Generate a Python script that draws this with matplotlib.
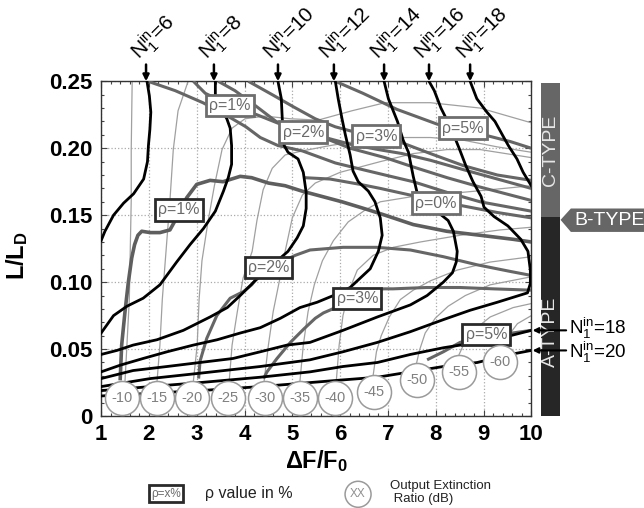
import numpy as np
import matplotlib
matplotlib.use('Agg')
import matplotlib.pyplot as plt
from matplotlib.patches import Rectangle, Polygon, Ellipse
from matplotlib.ticker import MultipleLocator

plt.rcParams['font.family'] = ['Liberation Sans', 'DejaVu Sans']
plt.rcParams['mathtext.fontset'] = 'custom'
plt.rcParams['mathtext.rm'] = 'Liberation Sans'
plt.rcParams['mathtext.it'] = 'Liberation Sans:italic'
plt.rcParams['mathtext.bf'] = 'Liberation Sans:bold'

# N1^in = const curves (black), points (dF/F0, L/LD)
n06 = [(1.96, .250), (2.01, .239), (2.04, .227), (2.02, .214), (1.99, .202), (1.97, .190),
       (1.89, .177), (1.68, .166), (1.47, .159), (1.26, .150), (1.08, .138), (1.00, .131)]
n08 = [(3.39, .250), (3.39, .240), (3.50, .230), (3.63, .222), (3.70, .215), (3.73, .202),
       (3.73, .188), (3.66, .178), (3.56, .168), (3.39, .153), (3.14, .140), (2.86, .128),
       (2.58, .115), (2.23, .098), (1.88, .088), (1.54, .082), (1.26, .075), (1.00, .062)]
n10 = [(4.70, .250), (4.77, .237), (4.79, .222), (4.83, .202), (4.91, .197), (5.12, .192),
       (5.23, .182), (5.29, .167), (5.29, .155), (5.23, .142), (5.10, .133), (4.91, .123),
       (4.75, .118), (4.50, .110), (4.22, .101), (3.91, .090), (3.64, .081), (3.28, .074),
       (2.72, .064), (2.17, .057), (1.67, .053), (1.33, .049), (1.00, .046)]
n12 = [(5.90, .250), (5.96, .237), (6.04, .222), (6.11, .210), (6.21, .195), (6.27, .183),
       (6.38, .175), (6.59, .168), (6.73, .160), (6.84, .148), (6.88, .135), (6.80, .123),
       (6.63, .110), (6.42, .103), (6.21, .096), (5.86, .090), (5.52, .085), (5.16, .081),
       (4.75, .073), (4.33, .066), (3.91, .062), (3.43, .057), (2.93, .053), (2.38, .048),
       (1.88, .043), (1.40, .038), (1.00, .033)]
n14 = [(6.92, .250), (7.01, .237), (7.20, .220), (7.32, .206), (7.43, .197), (7.53, .179),
       (7.61, .167), (7.88, .157), (8.26, .146), (8.37, .138), (8.45, .123), (8.43, .115),
       (8.35, .107), (8.16, .100), (7.82, .090), (7.47, .083), (6.78, .074), (6.06, .064),
       (5.37, .055), (4.89, .053), (4.33, .048), (3.76, .043), (3.07, .040), (2.38, .037),
       (1.67, .034), (1.00, .028)]
n16 = [(7.86, .250), (7.97, .243), (8.11, .230), (8.32, .215), (8.49, .200), (8.63, .187),
       (8.78, .175), (8.95, .164), (9.01, .156), (9.22, .149), (9.51, .142), (9.78, .132),
       (9.93, .123), (9.98, .109), (9.98, .099), (9.92, .092), (9.29, .085), (8.72, .079),
       (8.16, .072), (7.47, .063), (6.78, .055), (6.06, .048), (5.37, .042), (4.33, .037),
       (3.07, .032), (2.03, .028), (1.00, .022)]
n18_top = [(8.72, .250), (8.86, .237), (9.07, .227), (9.24, .220), (9.41, .209), (9.52, .202),
           (9.70, .192), (9.83, .182), (10.0, .172)]
n18_low = [(10.0, .064), (9.56, .060), (8.87, .055), (8.16, .051), (7.47, .046), (6.78, .040),
           (6.06, .037), (5.37, .033), (4.33, .029), (3.07, .025), (2.03, .022), (1.00, .019)]
n20_low = [(10.0, .049), (9.56, .046), (8.87, .040), (8.16, .037), (7.47, .033), (6.78, .029),
           (6.06, .027), (5.37, .025), (4.33, .022), (3.07, .019), (2.03, .017), (1.00, .015)]

n_top_values = [6, 8, 10, 12, 14, 16, 18]
n_top_x = [1.94, 3.36, 4.70, 5.87, 6.92, 7.86, 8.72]
n_right_values = [18, 20]
n_right_y = [0.064, 0.049]

# rho = const curves (dark gray)
rho1_up = [(1.98, .250), (2.55, .243), (3.13, .234), (3.60, .225), (4.03, .216), (4.33, .208),
           (4.70, .202), (5.21, .198), (5.90, .189), (6.59, .183), (6.94, .180), (7.53, .175),
           (8.24, .167), (8.93, .160), (10.0, .153)]
rho2_up = [(2.93, .250), (3.18, .241), (3.70, .232), (4.26, .225), (4.68, .219), (5.23, .212),
           (5.79, .206), (6.21, .200), (6.94, .193), (7.53, .186), (8.24, .178), (8.93, .171),
           (10.0, .161)]
rho_mid = [(3.45, .250), (3.80, .243), (4.22, .232), (4.66, .220), (5.20, .213), (5.79, .207),
           (6.21, .203), (6.80, .199), (7.30, .196), (7.89, .191), (8.58, .184), (9.29, .177),
           (10.0, .170)]
rho3_up = [(4.08, .250), (4.58, .240), (5.02, .231), (5.48, .222), (5.90, .216), (6.21, .213),
           (6.76, .209), (7.30, .204), (7.89, .196), (8.58, .187), (9.29, .180), (10.0, .176)]
rho5_up = [(5.90, .250), (6.48, .241), (7.19, .229), (8.03, .218), (8.57, .214), (9.12, .209),
           (9.56, .205), (10.0, .200)]
rho0 = [(5.26, .178), (5.79, .177), (6.42, .173), (6.84, .170), (7.47, .165), (8.01, .161),
        (8.56, .157), (9.29, .152), (10.0, .148)]
rho1_low = [(1.40, .028), (1.43, .053), (1.50, .078), (1.57, .100), (1.64, .118), (1.70, .128),
            (1.77, .135), (1.85, .138), (2.03, .137), (2.23, .137), (2.44, .139), (2.58, .148),
            (2.79, .163), (3.00, .173), (3.28, .176), (3.55, .175), (3.91, .179), (4.15, .178),
            (4.50, .174), (4.85, .172), (5.20, .168), (5.62, .164), (6.04, .160), (6.59, .154),
            (6.94, .150), (7.53, .143), (8.23, .138), (8.93, .135), (9.62, .132), (10.0, .130)]
rho2_low = [(3.04, .028), (3.07, .041), (3.21, .058), (3.42, .075), (3.70, .088), (3.98, .093),
            (4.15, .098), (4.26, .103), (4.60, .112), (5.06, .120), (5.37, .124), (6.06, .126),
            (6.77, .126), (7.47, .124), (8.16, .119), (8.86, .113), (9.56, .108), (10.0, .105)]
rho3_low = [(4.40, .028), (4.47, .033), (4.68, .043), (4.96, .055), (5.24, .065), (5.48, .073),
            (5.65, .077), (6.36, .088), (6.90, .095), (7.11, .095), (7.81, .096), (8.51, .096),
            (9.20, .095), (10.0, .094)]
rho5_low = [(7.82, .042), (8.16, .048), (8.51, .055), (9.06, .060), (9.60, .062), (10.0, .064)]

rho_text = ['ρ=1%', 'ρ=2%', 'ρ=3%', 'ρ=5%', 'ρ=0%', 'ρ=1%', 'ρ=2%', 'ρ=3%', 'ρ=5%']
rho_tx = [3.70, 5.23, 6.76, 8.57, 8.01, 2.63, 4.50, 6.36, 9.06]
rho_ty = [.232, .212, .209, .215, .159, .154, .111, .088, .061]
rho_lower = [False, False, False, False, False, True, True, True, True]

# output extinction ratio curves (thin gray)
er10 = [(1.50, .026), (1.54, .053), (1.59, .087), (1.61, .124), (1.63, .161), (1.63, .199), (1.65, .250)]
er15 = [(2.17, .026), (2.23, .053), (2.28, .087), (2.36, .124), (2.44, .161), (2.51, .199),
        (2.61, .228), (2.82, .250)]
er20 = [(2.93, .026), (3.01, .053), (3.05, .087), (3.11, .116), (3.24, .146), (3.37, .172),
        (3.53, .199), (3.74, .215), (4.01, .222), (4.43, .224), (4.96, .222), (5.54, .221),
        (6.25, .228), (6.94, .234), (7.89, .234), (8.93, .230), (10.0, .219)]
er25 = [(3.68, .026), (3.74, .053), (3.85, .078), (3.97, .103), (4.16, .123), (4.26, .146),
        (4.39, .169), (4.58, .185), (4.85, .195), (5.21, .198), (5.79, .202), (6.48, .206),
        (7.20, .208), (7.89, .208), (8.58, .206), (9.29, .201), (10.0, .197)]
er30 = [(4.41, .026), (4.50, .053), (4.60, .078), (4.73, .101), (4.85, .123), (5.00, .148),
        (5.21, .165), (5.48, .174), (6.00, .182), (6.84, .190), (7.53, .196), (8.24, .199),
        (8.93, .199), (10.0, .193)]
er35 = [(5.16, .026), (5.23, .053), (5.33, .078), (5.46, .098), (5.63, .116), (5.86, .131),
        (6.17, .145), (6.53, .154), (6.84, .160), (7.53, .164), (8.24, .166), (9.14, .169),
        (10.0, .172)]
er40 = [(5.92, .026), (5.98, .053), (6.06, .075), (6.19, .094), (6.36, .109), (6.69, .120),
        (7.11, .126), (7.68, .130), (8.51, .135), (9.35, .139), (10.0, .141)]
er45 = [(6.69, .030), (6.76, .048), (6.86, .060), (7.03, .074), (7.26, .087), (7.53, .094),
        (7.89, .101), (8.45, .109), (9.14, .115), (10.0, .119)]
er50 = [(7.59, .038), (7.66, .049), (7.78, .062), (7.99, .073), (8.26, .082), (8.62, .090),
        (9.14, .098), (10.0, .104)]
er55 = [(8.49, .046), (8.58, .053), (8.79, .064), (9.14, .074), (9.62, .081), (10.0, .084)]
er60 = [(9.41, .052), (9.50, .059), (9.71, .069), (10.0, .075)]

er_values = [-10, -15, -20, -25, -30, -35, -40, -45, -50, -55, -60]
er_x = [1.43, 2.17, 2.90, 3.66, 4.43, 5.16, 5.90, 6.70, 7.61, 8.48, 9.35]
er_y = [.0132, .0132, .0132, .0132, .0132, .0132, .0132, .0181, .0269, .0331, .0405]


def draw(ax, pts, **kw):
    xs, ys = zip(*pts)
    ax.plot(xs, ys, **kw)


fig = plt.figure(figsize=(6.44, 5.08), dpi=100)
ax = fig.add_axes([0.157, 0.181, 0.668, 0.659])

for c in [er10, er15, er20, er25, er30, er35, er40, er45, er50, er55, er60]:
    draw(ax, c, color='#a0a0a0', lw=0.9, zorder=2)

for c in [rho1_up, rho2_up, rho_mid, rho3_up, rho5_up, rho0, rho2_low, rho3_low, rho5_low]:
    draw(ax, c, color='#666666', lw=2.2, zorder=3, solid_capstyle='butt')
draw(ax, rho1_low, color='#5e5e5e', lw=2.6, zorder=3)

for c in [n06, n08, n10, n12, n14, n16, n18_top, n18_low, n20_low]:
    draw(ax, c, color='black', lw=2.0, zorder=4)

for t, x, y, low in zip(rho_text, rho_tx, rho_ty, rho_lower):
    ax.text(x, y, t, fontsize=11.5, color='#6a6a6a', ha='center', va='center', zorder=6,
            bbox=dict(boxstyle='square,pad=0.2', fc='white',
                      ec='#2a2a2a' if low else '#6e6e6e', lw=2))

ax.scatter(er_x, er_y, s=600, facecolor='white', edgecolor='#9a9a9a', lw=1.1, zorder=7, clip_on=False)
for v, x, y in zip(er_values, er_x, er_y):
    ax.text(x, y, str(v), fontsize=10.5, color='#808080', ha='center', va='center', zorder=8)

ax.set_xlim(1, 10)
ax.set_ylim(0, 0.25)
ax.set_xticks(range(1, 11))
ax.set_yticks([0, 0.05, 0.10, 0.15, 0.20, 0.25])
ax.set_yticklabels(['0', '0.05', '0.10', '0.15', '0.20', '0.25'])
ax.xaxis.set_minor_locator(MultipleLocator(0.2))
ax.yaxis.set_minor_locator(MultipleLocator(0.01))
ax.tick_params(which='both', direction='in', top=True, right=True, width=0.8, color='#444444')
ax.tick_params(which='major', length=4, labelsize=16, pad=6)
ax.tick_params(which='minor', length=2.5)
plt.setp(ax.get_xticklabels() + ax.get_yticklabels(), fontweight='bold')
ax.grid(True, which='major', ls=':', color='#aaaaaa', lw=0.9)
ax.set_axisbelow(True)
for s in ax.spines.values():
    s.set_color('#333333')
    s.set_linewidth(1.0)

ax.set_xlabel(r'ΔF/F$_\mathbf{0}$', fontsize=17, fontweight='bold')
ax.xaxis.set_label_coords(0.5, -0.095)
ax.set_ylabel(r'L/L$_\mathbf{D}$', fontsize=17, fontweight='bold')
ax.yaxis.set_label_coords(-0.165, 0.48)

# N1^in labels on top
for n, x in zip(n_top_values, n_top_x):
    ax.annotate('', xy=(x, 0.25), xytext=(x, 0.2625), annotation_clip=False,
                arrowprops=dict(arrowstyle='-|>', color='black', lw=1.8, mutation_scale=9,
                                shrinkA=0, shrinkB=0))
    ax.text(x - 0.13, 0.2655, r'$\mathregular{N_1^{in}}$=%d' % n, rotation=45,
            rotation_mode='anchor', ha='left', va='baseline', fontsize=15, clip_on=False)

# type bar on the right
trans = ax.get_yaxis_transform()
ax.add_patch(Rectangle((1.0233, 0.1485), 0.0441, 0.100, transform=trans, fc='#666666',
                       ec='none', clip_on=False))
ax.add_patch(Rectangle((1.0233, 0.0), 0.0441, 0.1485, transform=trans, fc='#262626',
                       ec='none', clip_on=False))
ax.text(1.0453, 0.1985, 'C-TYPE', transform=trans, rotation=90, ha='center', va='center',
        color='#e6e6e6', fontsize=14)
ax.text(1.0453, 0.0627, 'A-TYPE', transform=trans, rotation=90, ha='center', va='center',
        color='#e6e6e6', fontsize=14)
ax.add_patch(Polygon([(1.068, 0.1465), (1.092, 0.155), (1.40, 0.155), (1.40, 0.1375),
                      (1.092, 0.1375)], closed=True, transform=trans, fc='#666666',
                     ec='none', clip_on=False))
ax.text(1.100, 0.1462, 'B-TYPE', transform=trans, ha='left', va='center', color='white',
        fontsize=14)

for n, y, dy in zip(n_right_values, n_right_y, [0.0015, -0.0015]):
    ax.annotate('', xy=(1.003, y), xytext=(1.081, y), xycoords=trans, textcoords=trans,
                annotation_clip=False,
                arrowprops=dict(arrowstyle='-|>', color='black', lw=1.5, mutation_scale=8,
                                shrinkA=0, shrinkB=0))
    ax.text(1.088, y + dy, r'$\mathregular{N_1^{in}}$=%d' % n, transform=trans, ha='left',
            va='center', fontsize=13.5)

# legend row
fig.text(0.258, 0.028, 'ρ=x%', fontsize=8.5, color='#6a6a6a', ha='center', va='center',
         bbox=dict(boxstyle='square,pad=0.2', fc='white', ec='#2a2a2a', lw=2))
fig.text(0.318, 0.028, 'ρ value in %', fontsize=11.5, color='#222222', ha='left', va='center')
fig.add_artist(Ellipse((0.556, 0.027), 26 / 644, 26 / 508, transform=fig.transFigure,
                       fc='white', ec='#9a9a9a', lw=1.1))
fig.text(0.556, 0.027, 'XX', fontsize=8.5, color='#909090', ha='center', va='center')
fig.text(0.606, 0.031, 'Output Extinction\n Ratio (dB)', fontsize=9.5, color='#222222',
         ha='left', va='center', linespacing=1.15)

fig.savefig('out.png', dpi=100)
